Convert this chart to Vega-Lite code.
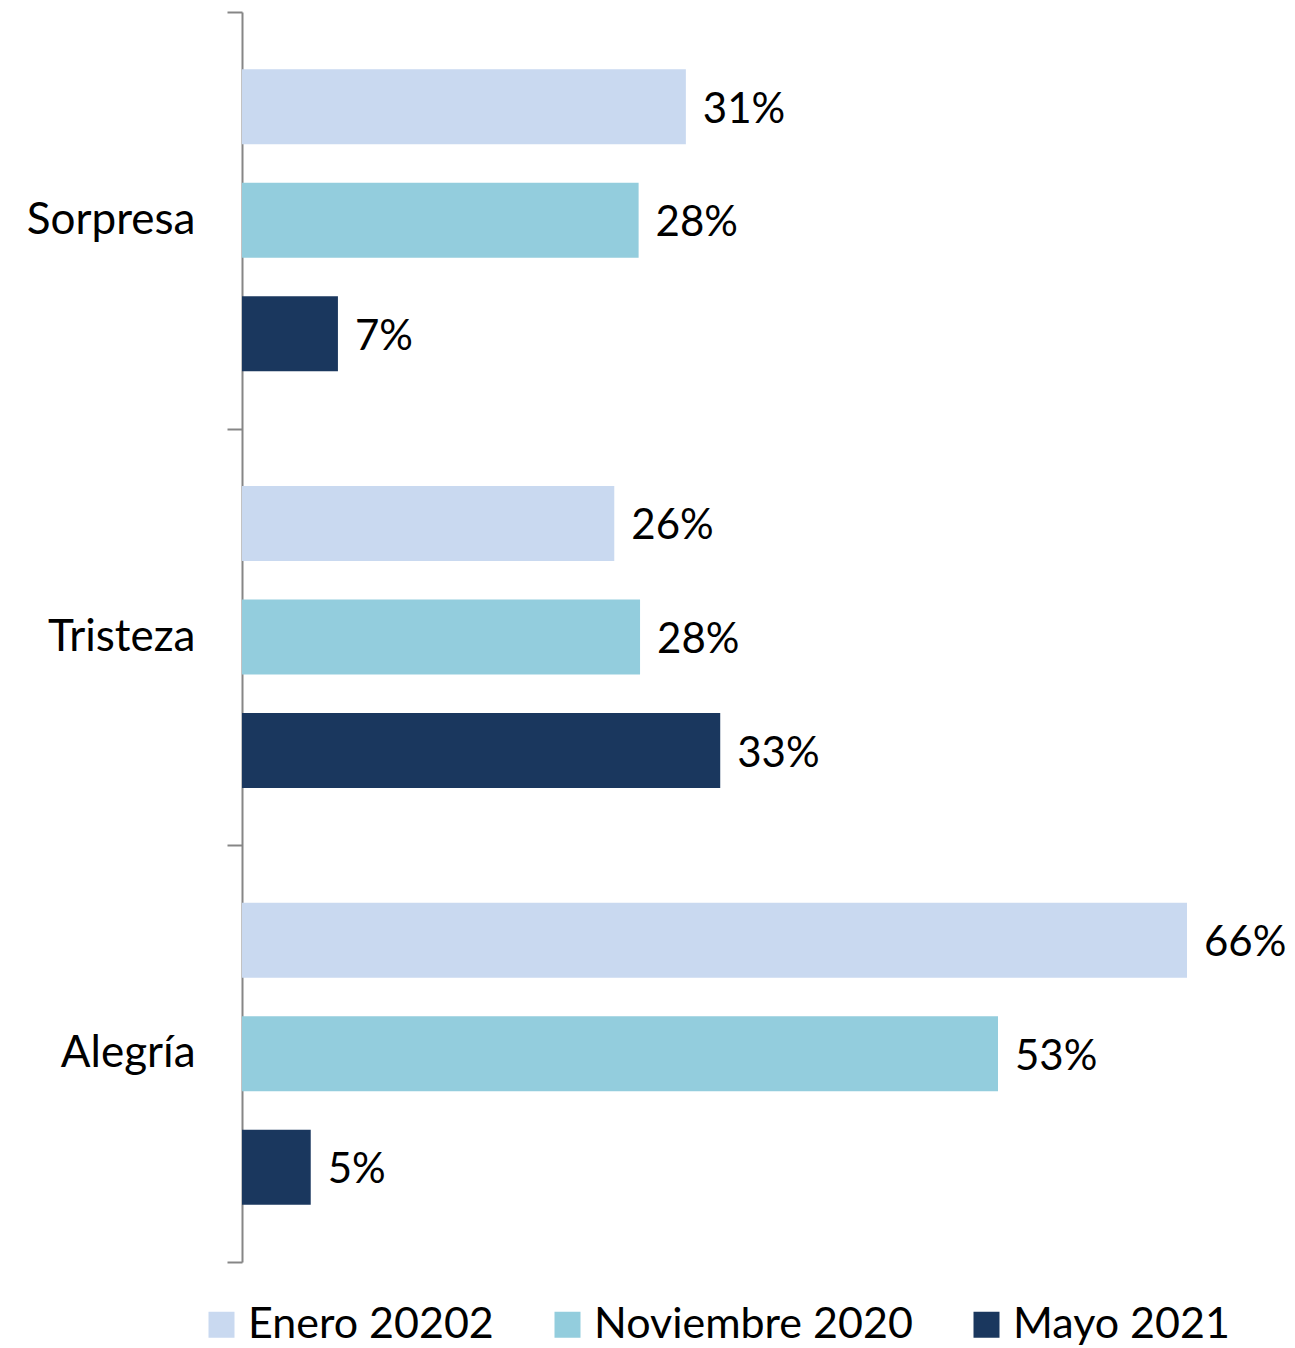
{
  "$schema": "https://vega.github.io/schema/vega-lite/v6.json",
  "autosize": "none",
  "width": 945,
  "height": 1250,
  "padding": {"left": 242, "top": 12, "right": 108, "bottom": 86},
  "background": "white",
  "config": {
    "view": {"stroke": null},
    "font": "Lato",
    "legend": {"layout": {"bottom": {"anchor": "middle"}}}
  },
  "data": {
    "values": [
      {"emocion": "Sorpresa", "periodo": "Enero 20202", "valor": 0.31},
      {"emocion": "Sorpresa", "periodo": "Noviembre 2020", "valor": 0.277},
      {"emocion": "Sorpresa", "periodo": "Mayo 2021", "valor": 0.067},
      {"emocion": "Tristeza", "periodo": "Enero 20202", "valor": 0.26},
      {"emocion": "Tristeza", "periodo": "Noviembre 2020", "valor": 0.278},
      {"emocion": "Tristeza", "periodo": "Mayo 2021", "valor": 0.334},
      {"emocion": "Alegría", "periodo": "Enero 20202", "valor": 0.66},
      {"emocion": "Alegría", "periodo": "Noviembre 2020", "valor": 0.528},
      {"emocion": "Alegría", "periodo": "Mayo 2021", "valor": 0.048}
    ]
  },
  "encoding": {
    "y": {
      "field": "emocion",
      "type": "nominal",
      "sort": ["Sorpresa", "Tristeza", "Alegría"],
      "scale": {"paddingInner": 0, "paddingOuter": 0},
      "axis": {
        "title": null,
        "tickBand": "extent",
        "domainColor": "#868686",
        "domainWidth": 2,
        "tickColor": "#868686",
        "tickWidth": 2,
        "tickSize": 15,
        "labelPadding": 32,
        "labelFontSize": 44,
        "labelColor": "#000000",
        "labelFont": "Lato"
      }
    },
    "yOffset": {
      "field": "periodo",
      "type": "nominal",
      "sort": ["Enero 20202", "Noviembre 2020", "Mayo 2021"],
      "scale": {"paddingInner": 0.339, "paddingOuter": 0.505}
    },
    "x": {
      "field": "valor",
      "type": "quantitative",
      "scale": {"domain": [0, 0.66], "nice": false},
      "axis": null
    }
  },
  "layer": [
    {
      "mark": {"type": "bar"},
      "encoding": {
        "color": {
          "field": "periodo",
          "type": "nominal",
          "sort": ["Enero 20202", "Noviembre 2020", "Mayo 2021"],
          "scale": {
            "domain": ["Enero 20202", "Noviembre 2020", "Mayo 2021"],
            "range": ["#C9D9F0", "#93CDDD", "#1A375E"]
          },
          "legend": {
            "title": null,
            "orient": "bottom",
            "direction": "horizontal",
            "symbolType": "square",
            "symbolSize": 676,
            "symbolStrokeWidth": 0,
            "labelFontSize": 43,
            "labelColor": "#000000",
            "labelFont": "Lato",
            "labelLimit": 500,
            "labelOffset": 5,
            "columnPadding": 52,
            "symbolOffset": 0,
            "padding": 0,
            "offset": 41
          }
        }
      }
    },
    {
      "mark": {"type": "text", "align": "left", "baseline": "middle", "dx": 17, "dy": 3, "fontSize": 42, "color": "#000000", "font": "Lato"},
      "encoding": {
        "text": {"field": "valor", "type": "quantitative", "format": ".0%"}
      }
    }
  ]
}
